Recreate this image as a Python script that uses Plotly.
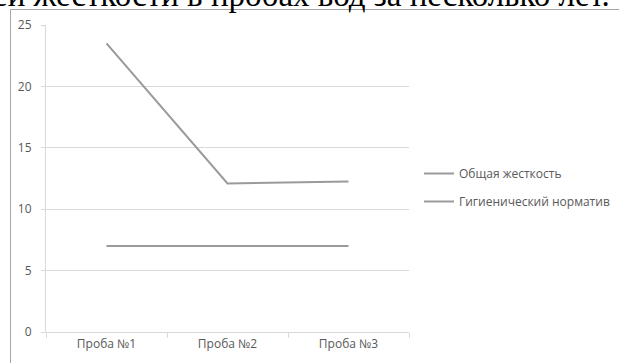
import plotly.graph_objects as go

# Samples and measured values
samples = ["Проба №1", "Проба №2", "Проба №3"]
total_hardness = [23.5, 12.1, 12.25]
hygienic_norm = [7, 7, 7]
y_ticks = [0, 5, 10, 15, 20, 25]

series_names = ["Общая жесткость", "Гигиенический норматив"]
caption = "ей жесткости в пробах вод за несколько лет."

W, H = 619, 363
L, R, T, B = 46, 210, 25, 31
pw, ph = W - L - R, H - T - B


def px_x(x):
    return (x - L) / pw


def px_y(y):
    return (H - B - y) / ph


LINE_COLOR = "#9a9a9a"
TEXT_COLOR = "#595959"
GRID_COLOR = "#d9d9d9"
FONT = "Open Sans"
FONT_SIZE = 12

fig = go.Figure()
fig.add_trace(go.Scatter(
    x=samples, y=total_hardness, name=series_names[0], mode="lines",
    line=dict(color=LINE_COLOR, width=2), legendgroup="a",
))
fig.add_trace(go.Scatter(
    x=samples, y=hygienic_norm, name=series_names[1], mode="lines",
    line=dict(color=LINE_COLOR, width=2), legendgroup="b",
))

fig.update_layout(
    width=W, height=H,
    margin=dict(l=L, r=R, t=T, b=B, pad=0, autoexpand=False),
    paper_bgcolor="white", plot_bgcolor="white",
    font=dict(family=FONT, size=FONT_SIZE, color=TEXT_COLOR),
    showlegend=True,
    legend=dict(
        x=px_x(419), y=px_y(159), xanchor="left", yanchor="top",
        font=dict(family=FONT, size=FONT_SIZE, color=TEXT_COLOR),
        tracegroupgap=9, bgcolor="rgba(0,0,0,0)",
    ),
    xaxis=dict(
        type="category", showgrid=False, showline=True, linecolor=GRID_COLOR,
        linewidth=1, ticks="outside", tickson="boundaries", ticklen=5,
        tickcolor=GRID_COLOR, range=[-0.5, 2.5], fixedrange=True,
        ticklabelstandoff=1,
    ),
    yaxis=dict(
        range=[0, 25], tickvals=y_ticks, showgrid=True, gridcolor=GRID_COLOR,
        gridwidth=1, showline=True, linecolor=GRID_COLOR, linewidth=1,
        ticks="outside", ticklen=4, tickcolor=GRID_COLOR, zeroline=False,
        ticklabelstandoff=7,
    ),
    shapes=[dict(
        type="rect", xref="paper", yref="paper",
        x0=px_x(10.5), x1=px_x(700), y0=px_y(9.5), y1=px_y(420),
        line=dict(color="#a6a6a6", width=1), fillcolor="rgba(0,0,0,0)",
        layer="below",
    )],
    annotations=[dict(
        text=caption, xref="paper", yref="paper",
        x=px_x(612), y=px_y(15), xanchor="right", yanchor="bottom",
        showarrow=False,
        font=dict(family="Liberation Serif", size=33, color="black"),
    )],
)

fig.write_html("out.html")
